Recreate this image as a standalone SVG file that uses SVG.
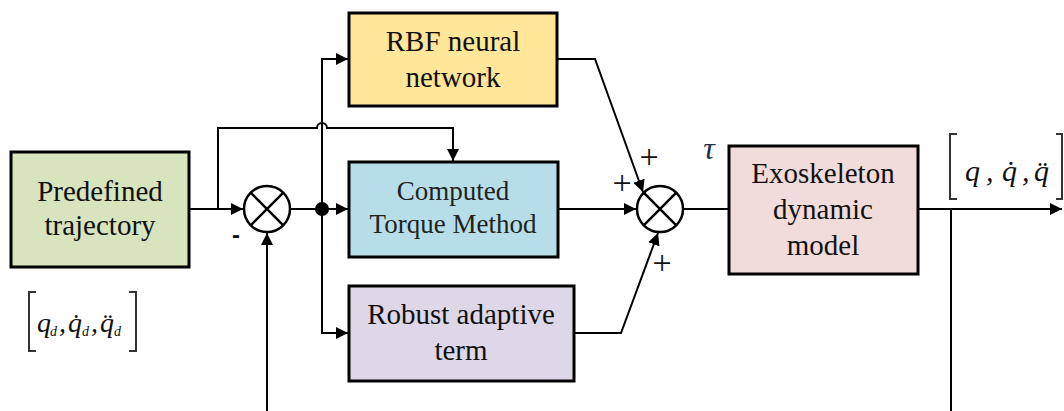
<svg xmlns="http://www.w3.org/2000/svg" width="1064" height="411" viewBox="0 0 1064 411">
<defs>
<marker id="ah" viewBox="0 0 12 12" refX="12" refY="6" markerWidth="12" markerHeight="12" markerUnits="userSpaceOnUse" orient="auto">
<path d="M0,0 L12,6 L0,12 Z" fill="#000"/>
</marker>
<style>
.box{stroke:#000;stroke-width:3}
.lbl{font-family:"Liberation Serif","Times New Roman",serif;font-size:29px;fill:#111;text-anchor:middle}
.ctm{font-size:27px;fill:#222}
.wire{fill:none;stroke:#000;stroke-width:2}
.sum{fill:#fff;stroke:#000;stroke-width:2.5}
.math{font-family:"Liberation Serif","Times New Roman",serif;font-style:italic;fill:#111}
.sub{font-size:14px}
.sign{font-family:"Liberation Serif","Times New Roman",serif;font-size:34px;fill:#111;text-anchor:middle}
.brk{fill:none;stroke:#333;stroke-width:2}
</style>
</defs>

<g id="connectors">
<path class="wire" d="M189,209 H243" marker-end="url(#ah)"/>
<path class="wire" d="M218,209 V128 H317 A5,5 0 0 1 327,128 H453 V161" marker-end="url(#ah)"/>
<path class="wire" d="M290,209 H348" marker-end="url(#ah)"/>
<path class="wire" d="M322,209 V59 H348" marker-end="url(#ah)"/>
<path class="wire" d="M322,209 V333 H348" marker-end="url(#ah)"/>
<path class="wire" d="M557,59 H595 L643,192" marker-end="url(#ah)"/>
<path class="wire" d="M558,209 H636" marker-end="url(#ah)"/>
<path class="wire" d="M574,333 H621 L658,233" marker-end="url(#ah)"/>
<path class="wire" d="M683,209 H729"/>
<path class="wire" d="M918,209 H1062" marker-end="url(#ah)"/>
<path class="wire" d="M951,209 V411"/>
<path class="wire" d="M267,411 V233" marker-end="url(#ah)"/>
<circle id="junction" cx="322" cy="209" r="7" fill="#000"/>
</g>

<g id="sum1">
<circle class="sum" cx="267" cy="209" r="23"/>
<path class="wire" d="M250.7,192.7 L283.3,225.3 M283.3,192.7 L250.7,225.3" style="stroke-width:2.5"/>
<text x="236" y="243" style="font-family:'Liberation Sans',Arial,sans-serif;font-size:24px;font-weight:bold;text-anchor:middle;fill:#111">-</text>
</g>

<g id="sum2">
<circle class="sum" cx="660" cy="209" r="23"/>
<path class="wire" d="M643.7,192.7 L676.3,225.3 M676.3,192.7 L643.7,225.3" style="stroke-width:2.5"/>
<text class="sign" x="649" y="168">+</text>
<text class="sign" x="622" y="194">+</text>
<text class="sign" x="662" y="274">+</text>
<text class="math" x="709" y="159" style="font-size:32px;fill:#1f3050;text-anchor:middle">τ</text>
</g>

<g id="predefined">
<rect class="box" x="11" y="152" width="178" height="115" fill="#d7e4bd"/>
<text class="lbl" x="100" y="201">Predefined</text>
<text class="lbl" x="100" y="235">trajectory</text>
</g>

<g id="rbf">
<rect class="box" x="349" y="13" width="208" height="93" fill="#ffe699"/>
<text class="lbl" x="453" y="51">RBF neural</text>
<text class="lbl" x="453" y="87">network</text>
</g>

<g id="ctm">
<rect class="box" x="349" y="162" width="209" height="95" fill="#b7dee8"/>
<text class="lbl ctm" x="453" y="200">Computed</text>
<text class="lbl ctm" x="453" y="233">Torque Method</text>
</g>

<g id="robust">
<rect class="box" x="349" y="286" width="225" height="95" fill="#ddd7e7"/>
<text class="lbl" x="461" y="324">Robust adaptive</text>
<text class="lbl" x="461" y="360">term</text>
</g>

<g id="exo">
<rect class="box" x="729" y="146" width="189" height="128" fill="#f2dcdb"/>
<text class="lbl" x="823" y="183">Exoskeleton</text>
<text class="lbl" x="823" y="219">dynamic</text>
<text class="lbl" x="823" y="255">model</text>
</g>

<g id="input-label">
<path class="brk" d="M36,292 H29 V351 H36 M129,292 H136 V351 H129"/>
<text class="math" style="font-size:28px"><tspan x="37" y="332">q</tspan><tspan class="sub" x="50" y="336">d</tspan><tspan x="59" y="332">,</tspan><tspan x="68" y="332">q̇</tspan><tspan class="sub" x="82" y="336">d</tspan><tspan x="91" y="332">,</tspan><tspan x="100" y="332">q̈</tspan><tspan class="sub" x="114" y="336">d</tspan></text>
</g>

<g id="output-label">
<path class="brk" d="M957,134 H950 V199 H957 M1056,134 H1062 V199 H1056"/>
<text class="math" style="font-size:30px"><tspan x="965" y="181">q</tspan><tspan x="986" y="181">,</tspan><tspan x="1002" y="181">q̇</tspan><tspan x="1022" y="181">,</tspan><tspan x="1034" y="181">q̈</tspan></text>
</g>
</svg>
